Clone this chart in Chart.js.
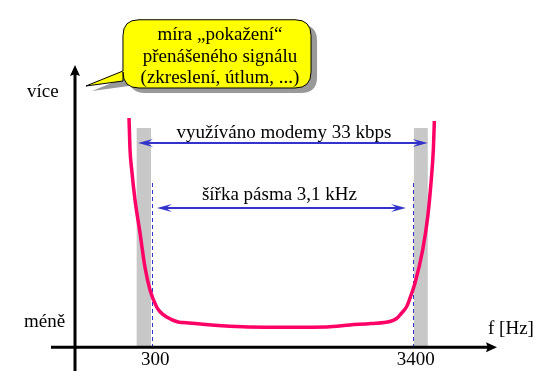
<!DOCTYPE html>
<html><head><meta charset="utf-8">
<script src="https://cdn.jsdelivr.net/npm/chart.js@4/dist/chart.umd.min.js"></script>
<style>html,body{margin:0;padding:0;background:#fff;overflow:hidden}</style>
</head><body>
<canvas id="c" width="559" height="383"></canvas>
<script>
// ---- data (frequency in Hz, distortion level in arbitrary units) ----
const freqHz     = [23, 35, 55, 94, 154, 213, 273, 352, 392, 471, 606, 665, 1130, 1440, 1940, 2380, 2653, 2900, 3130, 3209, 3269, 3329, 3360, 3428, 3519, 3579, 3618, 3646, 3658];
const distortion = [91.7, 79, 71, 59, 45.7, 32, 22.9, 16.1, 14.2, 12.1, 10.1, 9.9, 8.6, 8.1, 8.0, 8.1, 8.9, 9.5, 10.3, 11.5, 13.7, 16.3, 18.9, 25.7, 38.9, 52.1, 65.7, 79, 90.5];
const tickValues = [300, 3400];
const tickLabels = ['300', '3400'];
const voiceBand  = [300, 3400];      // šířka pásma 3,1 kHz
const modemBand  = [130, 3580];      // využíváno modemy
const guardBands = [[114, 285], [3415, 3580]];
const guardTop   = 87.7;
const dashTop    = 65.7;
const modemArrowLevel = 81.7;
const voiceArrowLevel = 55.7;
const axisLabels = { up: 'více', down: 'méně', x: 'f [Hz]' };
const bandLabels = { modem: 'využíváno modemy 33 kbps', voice: 'šířka pásma 3,1 kHz' };
const calloutLines = ['míra „pokažení“', 'přenášeného signálu', '(zkreslení, útlum, ...)'];

// ---- scale frame ----
const X_MIN = -1513, X_MAX = 5142, Y_MIN = -14.3, Y_MAX = 138.9;
const FONT = "19px 'Liberation Serif', 'Times New Roman', serif";
const BLUE = '#3333cc', PINK = '#ff0066';

function arrowHead(ctx, tx, ty, dx, dy, len, hw, notch) {
  const px = -dy, py = dx;
  ctx.beginPath();
  ctx.moveTo(tx, ty);
  ctx.lineTo(tx - dx*len + px*hw, ty - dy*len + py*hw);
  ctx.lineTo(tx - dx*len*notch, ty - dy*len*notch);
  ctx.lineTo(tx - dx*len - px*hw, ty - dy*len - py*hw);
  ctx.closePath();
  ctx.fill();
}

const decor = {
  id: 'decor',
  beforeDatasetsDraw(chart) {
    const { ctx, scales: { x, y } } = chart;
    ctx.save();
    ctx.fillStyle = '#c8c8c8';
    guardBands.forEach(([a, b]) => {
      const l = x.getPixelForValue(a), r = x.getPixelForValue(b);
      const t = y.getPixelForValue(guardTop), bt = y.getPixelForValue(0);
      ctx.fillRect(l, t, r - l, bt - t);
    });
    ctx.strokeStyle = BLUE; ctx.lineWidth = 1; ctx.setLineDash([4, 3]);
    voiceBand.forEach(f => {
      const px = Math.round(x.getPixelForValue(f)) + 0.5;
      ctx.beginPath();
      ctx.moveTo(px, y.getPixelForValue(dashTop));
      ctx.lineTo(px, y.getPixelForValue(0));
      ctx.stroke();
    });
    ctx.restore();
  },
  afterDatasetsDraw(chart) {
    const { ctx, scales: { x, y } } = chart;
    ctx.save();
    // axes
    const y0 = y.getPixelForValue(0);
    const xAxisAt = x.getPixelForValue(-620);
    const xStart = x.getPixelForValue(-906), xTip = x.getPixelForValue(4404);
    const yBottom = y.getPixelForValue(-9.5), yTip = y.getPixelForValue(112.9);
    ctx.strokeStyle = '#000'; ctx.fillStyle = '#000'; ctx.lineWidth = 3;
    ctx.beginPath(); ctx.moveTo(xStart, y0); ctx.lineTo(xTip - 6, y0); ctx.stroke();
    arrowHead(ctx, xTip, y0, 1, 0, 11, 5, 0.85);
    ctx.beginPath(); ctx.moveTo(xAxisAt, yBottom); ctx.lineTo(xAxisAt, yTip + 6); ctx.stroke();
    arrowHead(ctx, xAxisAt, yTip, 0, -1, 11, 5, 0.85);

    // blue double arrows
    ctx.strokeStyle = BLUE; ctx.fillStyle = BLUE; ctx.lineWidth = 2;
    [[modemBand, modemArrowLevel], [[356, 3320], voiceArrowLevel]].forEach(([band, lvl]) => {
      const l = x.getPixelForValue(band[0]), r = x.getPixelForValue(band[1]);
      const py = Math.round(y.getPixelForValue(lvl));
      ctx.beginPath(); ctx.moveTo(l + 8, py); ctx.lineTo(r - 8, py); ctx.stroke();
      arrowHead(ctx, l, py, -1, 0, 15, 4, 0.6);
      arrowHead(ctx, r, py, 1, 0, 15, 4, 0.6);
    });

    // texts
    ctx.font = FONT; ctx.fillStyle = '#000'; ctx.textBaseline = 'alphabetic';
    ctx.textAlign = 'center';
    tickValues.forEach((v, i) => ctx.fillText(tickLabels[i], x.getPixelForValue(v) + 3, y.getPixelForValue(-7.1)));
    ctx.fillText(bandLabels.modem, x.getPixelForValue(1868), y.getPixelForValue(83.7));
    ctx.fillText(bandLabels.voice, x.getPixelForValue(1814), y.getPixelForValue(58.9));
    ctx.textAlign = 'left';
    ctx.fillText(axisLabels.up, x.getPixelForValue(-1192), y.getPixelForValue(100.1));
    ctx.fillText(axisLabels.down, x.getPixelForValue(-1228), y.getPixelForValue(8.1));
    ctx.fillText(axisLabels.x, x.getPixelForValue(4297), y.getPixelForValue(5.3));

    // callout bubble
    const bl = x.getPixelForValue(-49), br = x.getPixelForValue(2190);
    const bt = y.getPixelForValue(131), bb = y.getPixelForValue(103.7);
    const tipX = x.getPixelForValue(-490), tipY = y.getPixelForValue(104.5);
    const tailTop = y.getPixelForValue(110.5), tailBot = y.getPixelForValue(106.5);
    const rad = 16;
    const shape = (ox, oy) => {
      ctx.beginPath();
      ctx.moveTo(bl + rad + ox, bt + oy);
      ctx.lineTo(br - rad + ox, bt + oy);
      ctx.quadraticCurveTo(br + ox, bt + oy, br + ox, bt + rad + oy);
      ctx.lineTo(br + ox, bb - rad + oy);
      ctx.quadraticCurveTo(br + ox, bb + oy, br - rad + ox, bb + oy);
      ctx.lineTo(bl + rad + ox, bb + oy);
      ctx.quadraticCurveTo(bl + ox, bb + oy, bl + ox, bb - rad + oy);
      ctx.lineTo(bl + ox, tailBot + oy);
      ctx.lineTo(tipX + ox, tipY + oy);
      ctx.lineTo(bl + ox, tailTop + oy);
      ctx.lineTo(bl + ox, bt + rad + oy);
      ctx.quadraticCurveTo(bl + ox, bt + oy, bl + rad + ox, bt + oy);
      ctx.closePath();
    };
    ctx.fillStyle = '#999999';
    shape(6, 5); ctx.fill();
    ctx.fillStyle = '#ffff00';
    shape(0, 0); ctx.fill();
    ctx.strokeStyle = '#000'; ctx.lineWidth = 1; ctx.stroke();
    ctx.fillStyle = '#000'; ctx.textAlign = 'center';
    const cx = x.getPixelForValue(1106);
    [122.9, 114.1, 105.7].forEach((lvl, i) => ctx.fillText(calloutLines[i], cx, y.getPixelForValue(lvl)));
    ctx.restore();
  }
};

new Chart(document.getElementById('c'), {
  type: 'line',
  data: {
    datasets: [{
      data: freqHz.map((f, i) => ({ x: f, y: distortion[i] })),
      borderColor: PINK, borderWidth: 3.5, pointRadius: 0,
      cubicInterpolationMode: 'monotone', fill: false
    }]
  },
  options: {
    responsive: false, animation: false, devicePixelRatio: 1,
    layout: { padding: 0 },
    plugins: { legend: { display: false }, tooltip: { enabled: false } },
    scales: {
      x: { type: 'linear', display: false, min: X_MIN, max: X_MAX },
      y: { type: 'linear', display: false, min: Y_MIN, max: Y_MAX }
    }
  },
  plugins: [decor]
});
</script>
</body></html>
